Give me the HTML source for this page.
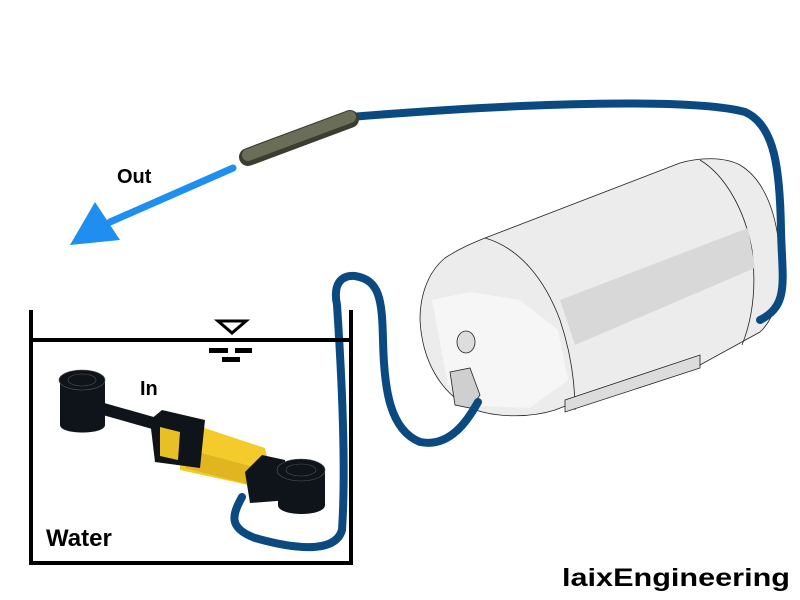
<!DOCTYPE html>
<html><head><style>html,body{margin:0;padding:0;background:#fff}svg{display:block}</style></head>
<body>
<svg width="800" height="600" viewBox="0 0 800 600" xmlns="http://www.w3.org/2000/svg" font-family="Liberation Sans, sans-serif" font-weight="bold">
<!-- tank -->
<g stroke="#222" stroke-width="0.8">
<path d="M445,258 C460,248 475,242 485,238 L680,163 C700,157 725,157 740,165 C765,180 778,215 780,260 C781,295 775,318 760,332 L700,365 L620,385 L555,410 C530,418 495,418 470,408 C440,392 422,360 420,320 C420,295 428,272 445,258 Z" fill="#ececec"/>
<path d="M485,238 C520,248 545,280 560,320 C570,350 575,380 575,410" fill="none"/>
<path d="M700,160 C725,175 745,210 752,250 C757,290 752,320 742,345" fill="none"/>
<path d="M560,300 L748,228 L755,268 L575,345 Z" fill="#d8d8d8" stroke="none"/>
<path d="M432,300 L470,292 L520,300 L558,330 L568,380 L530,408 L480,406 L448,385 Z" fill="#f6f6f6" stroke="none"/>
<path d="M565,400 L700,355 L700,368 L565,412 Z" fill="#dcdcdc"/>
<ellipse cx="466" cy="342" rx="9" ry="11" fill="#ddd"/>
<path d="M450,372 L470,368 L480,395 L470,408 L455,405 Z" fill="#cfcfcf"/>
</g>
<!-- hoses -->
<g fill="none" stroke="#0b4a80" stroke-width="8" stroke-linecap="round">
<path d="M760,320 C790,305 782,280 781,230 C780,170 775,125 745,112 C700,100 560,100 350,117"/>
<path d="M242,497 C232,515 228,528 255,538 C290,548 335,555 342,530 C346,470 342,380 337,305 C333,285 340,275 355,276 C380,280 382,300 383,340 C384,390 390,430 420,442 C450,448 468,420 478,402"/>
</g>
<!-- grey stick -->
<line x1="248" y1="157" x2="350" y2="119" stroke="#3a3d30" stroke-width="18" stroke-linecap="round"/>
<line x1="248" y1="155" x2="350" y2="117" stroke="#6a6e58" stroke-width="12" stroke-linecap="round"/>
<!-- out arrow -->
<line x1="233" y1="168" x2="110" y2="222" stroke="#1e8ef0" stroke-width="7" stroke-linecap="round"/>
<polygon points="70,245 95,202 120,240" fill="#1e8ef0"/>
<text x="117" y="183" font-size="20">Out</text>
<!-- container -->
<g stroke="#000" stroke-width="4" fill="none">
<path d="M31,310 V563 H351 V310"/>
<line x1="31" y1="340" x2="351" y2="340"/>
</g>
<polygon points="218,321 246,321 232,333" fill="none" stroke="#000" stroke-width="3"/>
<rect x="209" y="348" width="19" height="5" fill="#000"/><rect x="235" y="348" width="17" height="5" fill="#000"/><rect x="222" y="357" width="18" height="5" fill="#000"/>
<!-- pump -->
<g>
<path d="M60,380 V425 C60,435 105,435 105,425 V380 Z" fill="#0e1419"/>
<ellipse cx="82" cy="380" rx="23" ry="10" fill="#0e1419" stroke="#555" stroke-width="0.6"/>
<ellipse cx="82" cy="380" rx="14" ry="6" fill="none" stroke="#555" stroke-width="0.6"/>
<line x1="100" y1="408" x2="160" y2="425" stroke="#0e1419" stroke-width="12"/>
<path d="M180,420 L265,448 L270,470 L262,488 L180,470 Z" fill="#f3cc2c"/>
<path d="M190,450 L265,470 L262,488 L185,468 Z" fill="#e0b520"/>
<path d="M150,420 L162,410 L205,420 L200,468 L155,462 Z" fill="#0e1419"/>
<path d="M160,427 L180,432 L178,460 L160,456 Z" fill="#e8bf25"/>
<path d="M245,472 L262,455 L285,460 L290,500 L250,503 Z" fill="#0e1419"/>
<path d="M278,470 V505 C278,517 325,517 325,505 V470 Z" fill="#0e1419"/>
<ellipse cx="301" cy="470" rx="24" ry="11" fill="#0e1419" stroke="#555" stroke-width="0.6"/>
<ellipse cx="301" cy="470" rx="15" ry="6" fill="none" stroke="#555" stroke-width="0.6"/>
</g>
<text x="140" y="395" font-size="20">In</text>
<text x="46" y="546" font-size="24">Water</text>
<text x="562" y="586" font-size="25" textLength="228" lengthAdjust="spacingAndGlyphs">laixEngineering</text>
</svg>
</body></html>
